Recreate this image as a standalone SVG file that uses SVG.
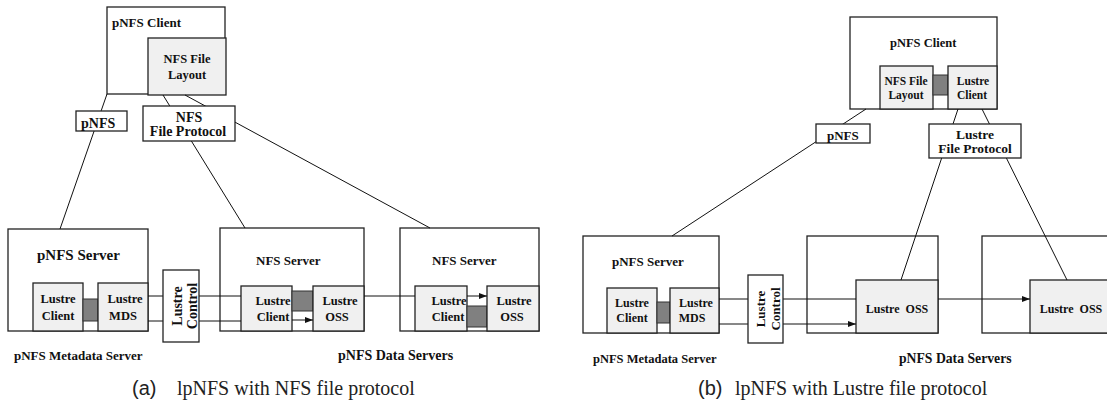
<svg xmlns="http://www.w3.org/2000/svg" width="1107" height="405" viewBox="0 0 1107 405">
<style>
.b{fill:#fff;stroke:#222;stroke-width:1.3}
.g{fill:#f0f0f0;stroke:#222;stroke-width:1.3}
.d{fill:#808080;stroke:#333;stroke-width:1}
.ln{stroke:#111;stroke-width:1;fill:none}
.ar{marker-end:url(#ah)}
text{font-family:"Liberation Serif","Times New Roman",serif;font-weight:bold;fill:#111}
.c{text-anchor:middle}
.cap{font-weight:normal;font-size:20px;fill:#222}
.capS{font-family:"Liberation Sans",Arial,sans-serif}
</style>
<defs>
<marker id="ah" markerUnits="userSpaceOnUse" markerWidth="8" markerHeight="7" refX="8" refY="3.5" orient="auto">
<path d="M0,0.5 L8,3.5 L0,6.5 z" fill="#111"/>
</marker>
</defs>
<!-- ===== (a) outer boxes ===== -->
<g id="a-pnfs-client">
<rect class="b" x="107" y="7" width="118" height="87"/>
<text x="112" y="27" font-size="13">pNFS Client</text>
<rect class="g" x="148" y="38" width="78" height="57"/>
<text class="c" x="187" y="63" font-size="12.5">NFS File</text>
<text class="c" x="187" y="79" font-size="12.5">Layout</text>
</g>
<g id="a-pnfs-server">
<rect class="b" x="8" y="229" width="140" height="102"/>
<text x="37" y="260" font-size="15">pNFS Server</text>
<rect class="g" x="33" y="283" width="50" height="48"/>
<text class="c" x="58" y="303" font-size="12.5">Lustre</text>
<text class="c" x="58" y="320" font-size="12.5">Client</text>
<rect class="d" x="83" y="299" width="15" height="22"/>
<rect class="g" x="98" y="283" width="50" height="48"/>
<text class="c" x="125" y="303" font-size="12.5">Lustre</text>
<text class="c" x="123" y="320" font-size="12.5">MDS</text>
</g>
<g id="a-nfs-server-1">
<rect class="b" x="220" y="228" width="144" height="103"/>
<text x="256" y="265" font-size="13">NFS Server</text>
<rect class="g" x="241" y="286" width="51" height="45"/>
<text class="c" x="273" y="305" font-size="12.5">Lustre</text>
<text class="c" x="273" y="321" font-size="12.5">Client</text>
<rect class="d" x="292" y="291" width="21" height="20"/>
<rect class="g" x="313" y="286" width="51" height="45"/>
<text class="c" x="340" y="305" font-size="12.5">Lustre</text>
<text class="c" x="337" y="321" font-size="12.5">OSS</text>
</g>
<g id="a-nfs-server-2">
<rect class="b" x="400" y="228" width="139" height="103"/>
<text x="432" y="265" font-size="13">NFS Server</text>
<rect class="g" x="415" y="286" width="52" height="45"/>
<text class="c" x="449" y="305" font-size="12.5">Lustre</text>
<text class="c" x="448" y="321" font-size="12.5">Client</text>
<rect class="d" x="467" y="306" width="20" height="21"/>
<rect class="g" x="487" y="286" width="52" height="45"/>
<text class="c" x="514" y="305" font-size="12.5">Lustre</text>
<text class="c" x="512" y="321" font-size="12.5">OSS</text>
</g>
<!-- ===== (b) outer boxes ===== -->
<g id="b-pnfs-client">
<rect class="b" x="850" y="17" width="147" height="92"/>
<text x="890" y="47" font-size="12.5">pNFS Client</text>
<rect class="g" x="880" y="66" width="53" height="43"/>
<text class="c" x="906" y="85" font-size="11.5">NFS File</text>
<text class="c" x="906" y="99" font-size="11.5">Layout</text>
<rect class="d" x="933" y="75" width="15" height="20"/>
<rect class="g" x="948" y="66" width="49" height="43"/>
<text class="c" x="973" y="85" font-size="11.5">Lustre</text>
<text class="c" x="972" y="99" font-size="11.5">Client</text>
</g>
<g id="b-pnfs-server">
<rect class="b" x="583" y="236" width="136" height="97"/>
<text x="612" y="266" font-size="13">pNFS Server</text>
<rect class="g" x="607" y="288" width="50" height="45"/>
<text class="c" x="632" y="307" font-size="12">Lustre</text>
<text class="c" x="632" y="322" font-size="12">Client</text>
<rect class="d" x="657" y="302" width="13" height="21"/>
<rect class="g" x="670" y="288" width="49" height="45"/>
<text class="c" x="696" y="307" font-size="12">Lustre</text>
<text class="c" x="692" y="322" font-size="12">MDS</text>
</g>
<g id="b-data-server-1">
<rect class="b" x="807" y="236" width="131" height="97"/>
<rect class="g" x="856" y="280" width="82" height="53"/>
<text class="c" x="897" y="313" font-size="12" xml:space="preserve">Lustre  OSS</text>
</g>
<g id="b-data-server-2">
<rect class="b" x="982" y="236" width="127" height="97"/>
<rect class="g" x="1030" y="280" width="79" height="53"/>
<text class="c" x="1071" y="313" font-size="12" xml:space="preserve">Lustre  OSS</text>
</g>
<!-- ===== connectors ===== -->
<g id="connectors">
<line class="ln" x1="107" y1="94" x2="60" y2="229"/>
<line class="ln" x1="163" y1="95" x2="245" y2="228"/>
<line class="ln" x1="185" y1="95" x2="430" y2="228"/>
<line class="ln" x1="148" y1="296" x2="163" y2="296"/>
<line class="ln" x1="199" y1="296" x2="241" y2="296"/>
<line class="ln" x1="148" y1="321" x2="163" y2="321"/>
<line class="ln" x1="199" y1="321" x2="241" y2="321"/>
<line class="ln ar" x1="292" y1="320" x2="313" y2="320"/>
<line class="ln" x1="364" y1="296" x2="415" y2="296"/>
<line class="ln ar" x1="467" y1="296" x2="487" y2="296"/>
<line class="ln" x1="866" y1="109" x2="672" y2="236"/>
<line class="ln" x1="958" y1="109" x2="901" y2="280"/>
<line class="ln" x1="982" y1="109" x2="1067" y2="280"/>
<line class="ln" x1="719" y1="299" x2="748" y2="299"/>
<line class="ln" x1="783" y1="299" x2="856" y2="299"/>
<line class="ln" x1="719" y1="324" x2="748" y2="324"/>
<line class="ln ar" x1="783" y1="324" x2="856" y2="324"/>
<line class="ln ar" x1="938" y1="299" x2="1030" y2="299"/>
</g>
<!-- ===== label boxes over connectors ===== -->
<g id="a-pnfs-label">
<rect class="b" x="76" y="111" width="51" height="20"/>
<text x="81" y="128" font-size="14">pNFS</text>
</g>
<g id="a-nfs-protocol">
<rect class="b" x="143" y="106" width="92" height="35"/>
<text class="c" x="189" y="122" font-size="14">NFS</text>
<text class="c" x="188" y="136" font-size="14">File Protocol</text>
</g>
<g id="a-lustre-control">
<rect class="b" x="163" y="270" width="36" height="72"/>
<text class="c" transform="translate(182,306) rotate(-90)" font-size="14">Lustre</text>
<text class="c" transform="translate(197,306) rotate(-90)" font-size="14">Control</text>
</g>
<g id="b-pnfs-label">
<rect class="b" x="816" y="124" width="54" height="19"/>
<text x="827" y="140" font-size="13">pNFS</text>
</g>
<g id="b-lustre-protocol">
<rect class="b" x="929" y="124" width="92" height="34"/>
<text class="c" x="975" y="139" font-size="13.5">Lustre</text>
<text class="c" x="975" y="153" font-size="13.5">File Protocol</text>
</g>
<g id="b-lustre-control">
<rect class="b" x="748" y="275" width="35" height="68"/>
<text class="c" transform="translate(765,309) rotate(-90)" font-size="13">Lustre</text>
<text class="c" transform="translate(780,309) rotate(-90)" font-size="13">Control</text>
</g>
<!-- ===== group labels & captions ===== -->
<g id="labels">
<text x="14" y="360" font-size="13">pNFS Metadata Server</text>
<text x="338" y="360" font-size="14">pNFS Data Servers</text>
<text x="593" y="363" font-size="12.5">pNFS Metadata Server</text>
<text x="899" y="363" font-size="13.7">pNFS Data Servers</text>
<text class="cap capS" x="132" y="395">(a)</text>
<text class="cap" x="177" y="395">lpNFS with NFS file protocol</text>
<text class="cap capS" x="698" y="395">(b)</text>
<text class="cap" x="735" y="395">lpNFS with Lustre file protocol</text>
</g>
</svg>
